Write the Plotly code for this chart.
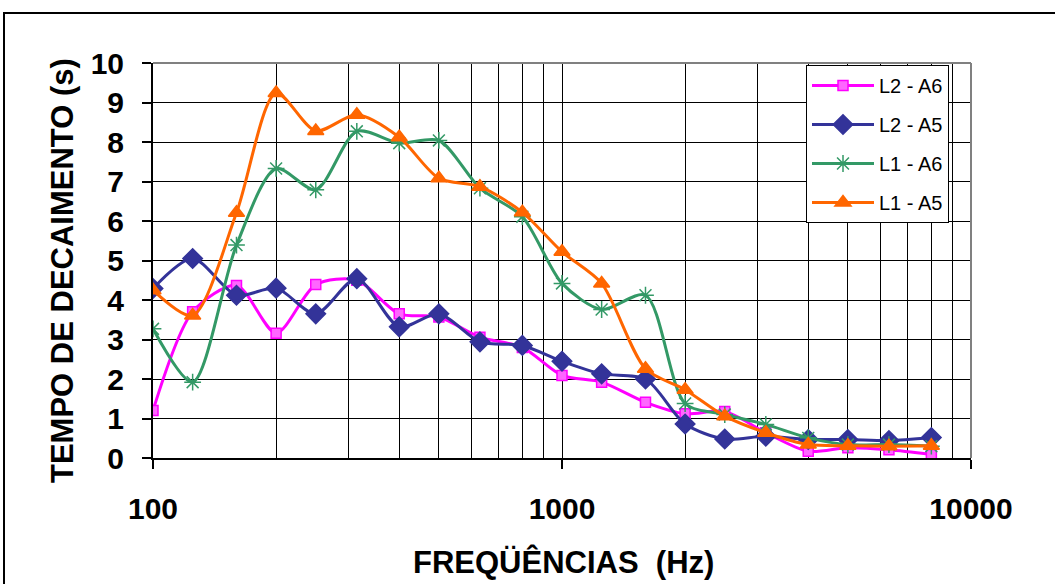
import plotly.graph_objects as go

freqs = [100, 125, 160, 200, 250, 315, 400, 500, 630, 800, 1000, 1250, 1600,
         2000, 2500, 3150, 4000, 5000, 6300, 8000]

l2_a6 = [1.2, 3.7, 4.37, 3.16, 4.39, 4.5, 3.65, 3.57, 3.06, 2.8, 2.09, 1.92, 1.41,
         1.12, 1.18, 0.64, 0.17, 0.26, 0.21, 0.09]
l2_a5 = [4.29, 5.05, 4.12, 4.3, 3.65, 4.54, 3.32, 3.65, 2.94, 2.85, 2.45, 2.13, 2.0,
         0.86, 0.48, 0.55, 0.47, 0.47, 0.44, 0.52]
l1_a6 = [3.27, 1.92, 5.39, 7.33, 6.79, 8.27, 7.97, 8.04, 6.83, 6.11, 4.42, 3.76, 4.12,
         1.38, 1.1, 0.85, 0.51, 0.34, 0.34, 0.3]
l1_a5 = [4.25, 3.61, 6.21, 9.24, 8.28, 8.69, 8.12, 7.08, 6.87, 6.22, 5.22, 4.42, 2.26,
         1.73, 1.06, 0.64, 0.34, 0.31, 0.3, 0.31]

series_names = ["L2 - A6", "L2 - A5", "L1 - A6", "L1 - A5"]
series_vals = [l2_a6, l2_a5, l1_a6, l1_a5]
series_colors = ["#FF00FF", "#333399", "#339966", "#FF6600"]
series_symbols = ["square", "diamond", "asterisk-open", "triangle-up"]
marker_sizes = [10, 15, 14, 14]
marker_fills = ["#FF66FF", "#333399", "#339966", "#FF6600"]

x_major = [100, 1000, 10000]
x_major_text = ["100", "1000", "10000"]
x_minor = [200, 300, 400, 500, 600, 700, 800, 900,
           2000, 3000, 4000, 5000, 6000, 7000, 8000, 9000]
y_ticks = list(range(0, 11))

FONT = "Liberation Sans, Arial, sans-serif"

fig = go.Figure()
for name, vals, col, sym, ms, fill in zip(series_names, series_vals, series_colors,
                                          series_symbols, marker_sizes, marker_fills):
    fig.add_trace(go.Scatter(
        x=freqs, y=vals, name=name, mode="lines+markers",
        legendgroup=name,
        line=dict(color=col, width=3, shape="spline", smoothing=0.8),
        marker=dict(symbol=sym, size=ms, color=fill,
                    line=dict(color=col, width=1.5)),
    ))

fig.update_layout(
    width=1055, height=584,
    margin=dict(l=153, r=84, t=63, b=126),
    paper_bgcolor="white", plot_bgcolor="white",
    font=dict(family=FONT, color="black"),
    showlegend=True,
    legend=dict(
        x=(806 - 153) / 818, y=(458 - 65) / 395, xanchor="left", yanchor="top",
        bordercolor="black", borderwidth=1, bgcolor="white",
        font=dict(size=20, family=FONT, color="black"),
        tracegroupgap=10, traceorder="grouped", itemwidth=62,
    ),
    xaxis=dict(
        type="log", range=[2, 4],
        tickvals=x_major, ticktext=x_major_text,
        ticks="outside", ticklen=9, tickwidth=1.5, tickcolor="black",
        tickfont=dict(size=30, family=FONT, color="black", weight="bold"),
        ticklabelstandoff=14,
        showgrid=True, gridcolor="black", gridwidth=1,
        minor=dict(tickvals=x_minor, showgrid=True, gridcolor="black",
                   gridwidth=1, ticks=""),
        showline=True, linecolor="black", linewidth=2,
        zeroline=False,
    ),
    yaxis=dict(
        range=[0, 10], tickvals=y_ticks,
        ticks="outside", ticklen=9, tickwidth=1.5, tickcolor="black",
        tickfont=dict(size=30, family=FONT, color="black", weight="bold"),
        ticklabelstandoff=12,
        showgrid=True, gridcolor="black", gridwidth=1,
        showline=True, linecolor="black", linewidth=2,
        zeroline=False,
    ),
)

# plot area top/right border (grey)
fig.add_shape(type="line", xref="paper", yref="paper", x0=0, x1=1, y0=1, y1=1,
              line=dict(color="#808080", width=2))
fig.add_shape(type="line", xref="paper", yref="paper", x0=1, x1=1, y0=0, y1=1,
              line=dict(color="#808080", width=2))
# outer chart frame
fig.add_shape(type="rect", xref="paper", yref="paper",
              x0=(4 - 153) / 818, x1=(1065 - 153) / 818,
              y0=(458 - 600) / 395, y1=(458 - 13) / 395,
              line=dict(color="black", width=2), layer="below")

fig.add_annotation(text="TEMPO DE DECAIMENTO (s)", xref="paper", yref="paper",
                   x=(62 - 153) / 818, y=(458 - 271) / 395, textangle=-90,
                   showarrow=False, xanchor="center", yanchor="middle",
                   font=dict(size=31, family=FONT, color="black", weight="bold"))
fig.add_annotation(text="FREQÜÊNCIAS\u00a0 (Hz)", xref="paper", yref="paper",
                   x=(563 - 153) / 818, y=(458 - 562) / 395,
                   showarrow=False, xanchor="center", yanchor="middle",
                   font=dict(size=31, family=FONT, color="black", weight="bold"))

fig.write_html("out.html")
